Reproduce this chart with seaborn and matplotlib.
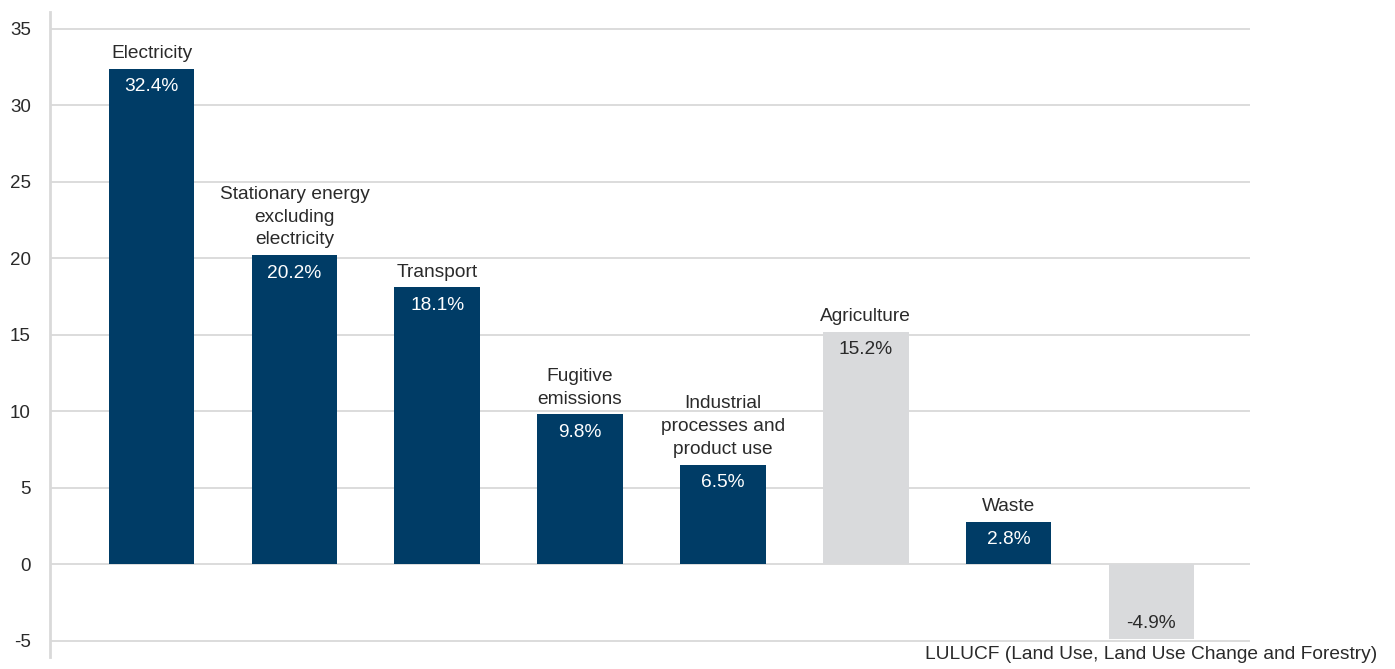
import seaborn as sns
import matplotlib.pyplot as plt
import pandas as pd

categories = ['Electricity', 'Stationary energy\nexcluding\nelectricity', 'Transport',
              'Fugitive\nemissions', 'Industrial\nprocesses and\nproduct use', 'Agriculture',
              'Waste', 'LULUCF (Land Use, Land Use Change and Forestry)']
values = [32.4, 20.2, 18.1, 9.8, 6.5, 15.2, 2.8, -4.9]
bar_colors = ['#003c66', '#003c66', '#003c66', '#003c66', '#003c66', '#d9dadc', '#003c66', '#d9dadc']
yticks = [-5, 0, 5, 10, 15, 20, 25, 30, 35]

sns.set_style('white')
plt.rcParams['font.family'] = ['Liberation Sans', 'DejaVu Sans']
plt.rcParams['axes.unicode_minus'] = False

df = pd.DataFrame({'category': categories, 'value': values})

fig = plt.figure(figsize=(13.95, 6.69), dpi=100)
ax = fig.add_axes([0.036, 0.018, 0.86, 0.964])
sns.barplot(data=df, x='category', y='value', hue='category', palette=bar_colors,
            width=0.6, saturation=1, legend=False, ax=ax, zorder=3, linewidth=0)

ax.set_ylim(-6.05, 36.1)
ax.set_xlim(-0.71, 7.69)
ax.set_yticks(yticks)
ax.set_xticks([])
ax.set_xlabel('')
ax.set_ylabel('')
ax.yaxis.grid(True, color='#d9d9d9', linewidth=1.3, zorder=0)
ax.tick_params(axis='y', labelsize=13.5, length=0, pad=14, colors='#2a2a2a')
for s in ['top', 'right', 'bottom']:
    ax.spines[s].set_visible(False)
ax.spines['left'].set_color('#d9d9d9')
ax.spines['left'].set_linewidth(2)

fs = 13.8
for i, (cat, v) in enumerate(zip(categories, values)):
    dark = bar_colors[i] == '#003c66'
    txt_col = 'white' if dark else '#2a2a2a'
    if v >= 0:
        ax.text(i, v - 0.6, f'{v}%', ha='center', va='top', fontsize=fs, color=txt_col, zorder=4)
        ax.annotate(cat, (i, v), xytext=(0, 5), textcoords='offset points', ha='center', va='bottom',
                    fontsize=fs, color='#2a2a2a', linespacing=1.45)
    else:
        ax.text(i, v + 0.5, f'{v}%', ha='center', va='bottom', fontsize=fs, color=txt_col, zorder=4)
        ax.annotate(cat, (i, v), xytext=(0, -5), textcoords='offset points', ha='center', va='top',
                    fontsize=fs, color='#2a2a2a', annotation_clip=False)

fig.savefig('out.png', dpi=100)
